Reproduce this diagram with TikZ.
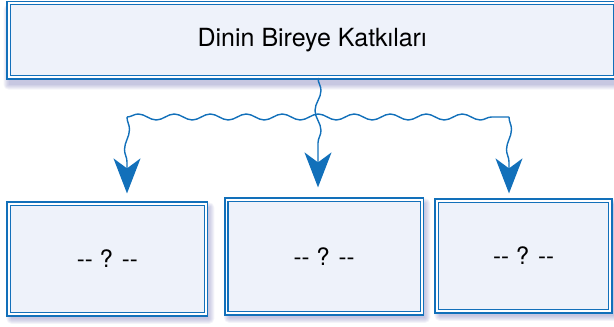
\documentclass[tikz,border=0pt]{standalone}
\usepackage{fontspec}
\setmainfont{TeX Gyre Heros}
\usetikzlibrary{arrows.meta,decorations.pathmorphing,backgrounds}
\definecolor{lineblue}{RGB}{18,112,186}
\definecolor{boxfill}{RGB}{238,242,250}
\definecolor{shadowblue}{RGB}{96,96,170}
\tikzset{
    kbox/.style={draw=lineblue, double=white, line width=1.2pt, double distance=1.6pt,
        preaction={draw=lineblue, line width=5.4pt}, fill=boxfill,
        anchor=north west, inner sep=0pt},
    wave/.style={draw=lineblue, line width=1.4pt, decorate,
        decoration={snake, amplitude=#1, segment length=40pt, post length=30pt}},
    ktip/.style={-{Stealth[length=35pt, width=27pt, inset=10pt]}},
}
\begin{document}
\begin{tikzpicture}[x = 1pt, y = -1pt]
    \useasboundingbox (0,0) rectangle (614,327);
    \node[kbox, minimum width=606pt, minimum height=73.8pt,
        font=\fontsize{25}{30}\selectfont] (title) at (8.5,2.6) {Dinin Bireye Katkıları};
    \begin{scope}[font=\fontsize{24}{28}\selectfont]
    \node[kbox, minimum width=196.7pt, minimum height=110.2pt]
        (k1) at (8.4,203.4) {\mbox{-}\mbox{-} ? \mbox{-}\mbox{-}};
    \node[kbox, minimum width=195.2pt, minimum height=113.2pt]
        (k2) at (225.9,199.4) {\mbox{-}\mbox{-} ? \mbox{-}\mbox{-}};
    \node[kbox, minimum width=173.2pt, minimum height=110.2pt]
        (k3) at (436.4,200.4) {\mbox{-}\mbox{-} ? \mbox{-}\mbox{-}};
    \end{scope}
    \begin{scope}[on background layer]
    \foreach \n/\dx/\dy in {title/0/7, k1/3/4, k2/3/4, k3/3/4}
        \foreach \s in {0,...,5}
            \fill[shadowblue, opacity=0.07, rounded corners={\s*1pt}]
            ([xshift={(\dx-\s)*1pt}, yshift={(\s-\dy)*1pt}]\n.north west) rectangle
            ([xshift={(\dx+\s)*1pt}, yshift={(-\s-\dy)*1pt}]\n.south east);
    \end{scope}
    \coordinate (lc) at (127,117);
    \coordinate (rc) at (509,117);
    \coordinate (ct) at (318,78);
    \draw[wave=3pt, decoration={post length=0pt, segment length=36pt}] (lc) -- (rc);
    \draw[wave=2.5pt, ktip] (lc) -- ([yshift=10pt]k1.north -| lc);
    \draw[wave=3pt, ktip] (ct) -- ([yshift=12pt]k2.north -| ct);
    \draw[wave=2.5pt, ktip] (rc) -- ([yshift=7pt]k3.north -| rc);
\end{tikzpicture}
\end{document}
